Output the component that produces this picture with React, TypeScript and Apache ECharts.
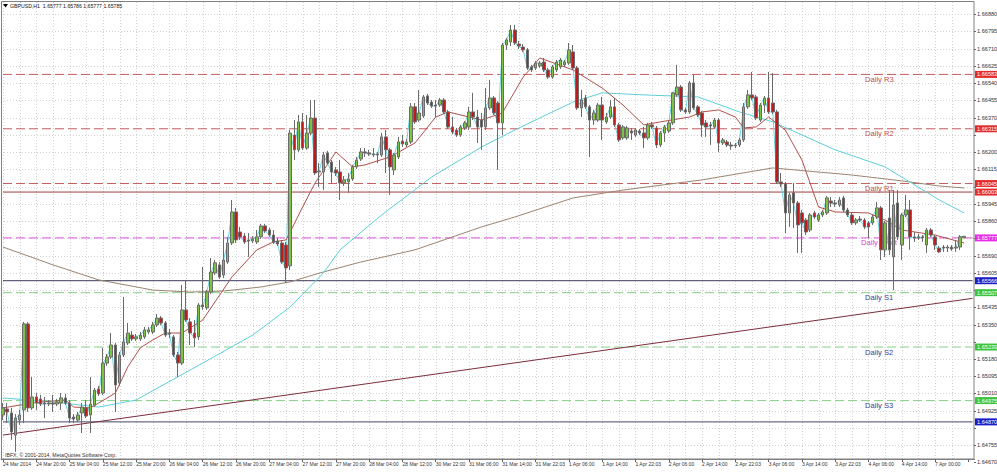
import React, { useEffect, useRef } from "react";
import * as echarts from "echarts";

// [open, close, low, high] — GBPUSD H1, one row per bar from 24 Mar 2014 12:00
const ohlc: number[][] = [
  [1.64904, 1.64939, 1.64879, 1.64963], [1.64934, 1.64919, 1.64864, 1.64963], [1.64914, 1.6482, 1.64781, 1.64939], [1.64805, 1.64889, 1.64722, 1.64909],
  [1.64879, 1.64904, 1.64855, 1.64929], [1.64929, 1.65353, 1.64864, 1.65363], [1.65353, 1.64939, 1.64919, 1.65363], [1.64939, 1.64993, 1.64929, 1.65091],
  [1.64993, 1.64963, 1.64929, 1.65012], [1.64983, 1.64958, 1.64948, 1.65003], [1.64963, 1.64958, 1.64889, 1.64993], [1.64958, 1.64963, 1.64948, 1.64978],
  [1.64963, 1.64958, 1.64919, 1.65003], [1.64958, 1.64968, 1.64948, 1.64983], [1.64963, 1.64988, 1.64929, 1.65012], [1.64988, 1.64963, 1.64953, 1.65008],
  [1.64963, 1.64889, 1.64864, 1.64978], [1.64894, 1.64884, 1.64864, 1.64909], [1.64879, 1.64904, 1.64869, 1.64919], [1.64914, 1.64943, 1.64815, 1.64963],
  [1.64939, 1.64899, 1.64889, 1.64978], [1.64904, 1.64958, 1.64815, 1.65091], [1.64953, 1.65027, 1.64943, 1.65037], [1.65032, 1.65008, 1.64998, 1.65047],
  [1.65012, 1.6516, 1.65003, 1.65234], [1.6516, 1.6519, 1.65146, 1.65205], [1.6519, 1.65249, 1.6518, 1.65308], [1.65249, 1.65052, 1.64919, 1.65259],
  [1.65062, 1.652, 1.65047, 1.65215], [1.652, 1.65264, 1.6519, 1.65486], [1.65259, 1.65308, 1.65249, 1.65358], [1.65298, 1.65279, 1.65269, 1.65318],
  [1.65279, 1.65289, 1.65269, 1.65303], [1.65279, 1.65298, 1.65269, 1.65313], [1.65289, 1.65323, 1.65279, 1.65338], [1.65313, 1.65323, 1.65303, 1.65338],
  [1.65313, 1.65348, 1.65303, 1.65363], [1.65348, 1.65382, 1.65338, 1.65402], [1.65382, 1.65358, 1.65348, 1.65392], [1.65358, 1.65298, 1.65289, 1.65367],
  [1.65308, 1.65303, 1.65284, 1.65328], [1.65289, 1.652, 1.6519, 1.65298], [1.652, 1.6516, 1.65091, 1.65215], [1.6516, 1.65422, 1.6515, 1.65545],
  [1.65422, 1.65372, 1.65363, 1.6557], [1.65363, 1.65308, 1.65249, 1.65382], [1.65308, 1.65284, 1.65239, 1.65372], [1.65289, 1.65446, 1.65274, 1.65456],
  [1.65446, 1.65437, 1.65422, 1.65634], [1.65432, 1.6551, 1.65422, 1.6552], [1.6551, 1.65609, 1.65501, 1.65678], [1.65604, 1.65654, 1.65594, 1.65668],
  [1.65644, 1.65584, 1.65575, 1.65658], [1.65594, 1.65668, 1.65579, 1.65816], [1.65658, 1.65752, 1.65649, 1.65782], [1.65752, 1.65905, 1.65742, 1.65964],
  [1.65905, 1.65767, 1.65752, 1.65925], [1.65806, 1.65782, 1.65767, 1.65831], [1.65786, 1.65757, 1.65747, 1.65801], [1.65767, 1.65762, 1.65683, 1.65801],
  [1.65762, 1.65772, 1.65752, 1.65786], [1.65757, 1.65782, 1.65747, 1.65816], [1.65782, 1.65836, 1.65772, 1.65846], [1.65836, 1.65811, 1.65801, 1.65846],
  [1.65816, 1.65791, 1.65782, 1.65826], [1.65791, 1.65757, 1.65747, 1.65816], [1.65762, 1.65747, 1.65737, 1.65777], [1.65752, 1.65658, 1.65649, 1.65767],
  [1.65742, 1.65629, 1.65555, 1.65757], [1.65639, 1.66294, 1.65619, 1.66309], [1.66284, 1.66211, 1.66161, 1.66358], [1.66211, 1.66349, 1.66201, 1.66383],
  [1.66349, 1.6622, 1.66211, 1.66393], [1.6622, 1.66294, 1.66211, 1.66383], [1.66294, 1.66368, 1.66284, 1.66457], [1.66368, 1.66097, 1.66087, 1.66457],
  [1.66102, 1.66107, 1.66028, 1.66146], [1.66102, 1.66186, 1.66013, 1.66201], [1.66196, 1.66146, 1.66137, 1.66206], [1.66151, 1.66102, 1.66048, 1.66161],
  [1.66112, 1.66097, 1.66082, 1.66127], [1.66102, 1.66048, 1.65964, 1.66161], [1.66048, 1.66063, 1.66033, 1.66082], [1.66053, 1.66068, 1.65999, 1.66097],
  [1.66068, 1.66127, 1.66058, 1.66137], [1.66127, 1.66161, 1.66117, 1.66176], [1.66166, 1.66201, 1.66156, 1.6622], [1.66201, 1.66196, 1.66176, 1.6622],
  [1.66196, 1.66191, 1.66181, 1.66211], [1.66186, 1.66191, 1.66176, 1.6622], [1.66191, 1.66186, 1.66146, 1.66201], [1.66186, 1.66275, 1.66176, 1.66294],
  [1.66275, 1.66211, 1.66097, 1.66309], [1.66211, 1.66127, 1.65989, 1.6622], [1.66112, 1.66186, 1.66087, 1.66196], [1.66176, 1.6625, 1.66166, 1.66275],
  [1.66255, 1.6624, 1.66225, 1.66284], [1.66235, 1.6625, 1.66225, 1.66265], [1.6625, 1.66423, 1.6624, 1.66442], [1.66423, 1.66349, 1.66339, 1.66442],
  [1.66358, 1.66393, 1.66349, 1.66506], [1.66378, 1.66472, 1.66368, 1.66482], [1.66477, 1.66442, 1.66432, 1.66487], [1.66447, 1.66427, 1.66418, 1.66457],
  [1.66432, 1.66427, 1.66373, 1.66457], [1.66432, 1.66457, 1.66423, 1.66467], [1.66457, 1.66398, 1.66388, 1.66467], [1.66398, 1.66324, 1.66314, 1.66408],
  [1.66324, 1.66299, 1.66289, 1.66373], [1.66309, 1.66284, 1.66275, 1.66319], [1.66284, 1.66324, 1.66275, 1.66334], [1.66319, 1.66344, 1.66309, 1.66353],
  [1.66324, 1.66398, 1.66309, 1.66423], [1.66398, 1.66373, 1.66358, 1.66492], [1.66373, 1.66324, 1.66245, 1.66408], [1.66358, 1.66324, 1.66211, 1.66393],
  [1.66324, 1.66418, 1.66309, 1.66516], [1.66418, 1.66467, 1.66408, 1.66556], [1.66467, 1.66393, 1.66383, 1.66477], [1.66442, 1.66344, 1.66112, 1.66452],
  [1.66344, 1.66728, 1.66284, 1.66738], [1.66728, 1.66753, 1.66704, 1.66763], [1.66743, 1.66802, 1.66723, 1.66827], [1.66802, 1.66738, 1.66728, 1.66827],
  [1.66733, 1.66723, 1.66708, 1.66748], [1.66718, 1.66704, 1.66694, 1.66733], [1.66704, 1.66615, 1.66605, 1.66713], [1.6662, 1.66605, 1.66595, 1.6663],
  [1.66615, 1.66639, 1.66605, 1.66649], [1.66625, 1.66639, 1.66615, 1.66649], [1.66644, 1.66605, 1.66595, 1.66664], [1.66605, 1.6657, 1.66561, 1.66615],
  [1.6657, 1.6662, 1.66561, 1.6663], [1.66605, 1.66644, 1.66595, 1.66654], [1.6662, 1.66654, 1.6661, 1.66664], [1.6663, 1.66644, 1.6662, 1.66654],
  [1.66639, 1.66704, 1.6663, 1.66738], [1.66694, 1.66615, 1.66605, 1.66728], [1.66615, 1.66418, 1.66408, 1.66625], [1.66418, 1.66457, 1.66373, 1.66506],
  [1.66467, 1.66423, 1.66413, 1.66482], [1.66423, 1.66358, 1.66176, 1.66432], [1.66358, 1.66393, 1.66334, 1.66408], [1.66358, 1.66432, 1.66349, 1.66442],
  [1.66432, 1.66358, 1.6626, 1.66472], [1.66349, 1.66373, 1.66339, 1.66393], [1.66373, 1.66423, 1.66363, 1.66457], [1.66423, 1.66334, 1.66324, 1.66467],
  [1.66334, 1.6626, 1.6625, 1.66344], [1.6627, 1.66324, 1.6626, 1.66334], [1.6627, 1.66319, 1.6626, 1.66329], [1.66304, 1.66294, 1.6626, 1.66319],
  [1.66284, 1.66309, 1.66275, 1.66319], [1.66304, 1.66294, 1.66284, 1.66314], [1.66294, 1.6627, 1.6622, 1.66324], [1.6627, 1.66334, 1.6626, 1.66344],
  [1.66334, 1.66324, 1.66314, 1.66349], [1.66319, 1.66235, 1.6622, 1.66329], [1.66235, 1.66294, 1.66225, 1.66304], [1.66294, 1.66324, 1.6625, 1.66334],
  [1.66304, 1.66344, 1.66294, 1.66353], [1.66344, 1.66492, 1.66334, 1.66496], [1.66482, 1.66521, 1.66472, 1.6663], [1.66521, 1.66408, 1.66398, 1.66531],
  [1.66408, 1.66398, 1.66388, 1.66418], [1.66398, 1.66541, 1.66388, 1.66551], [1.66541, 1.66418, 1.66408, 1.6658], [1.66423, 1.66383, 1.66373, 1.66432],
  [1.66393, 1.66334, 1.66275, 1.66403], [1.66344, 1.66324, 1.66275, 1.66358], [1.66334, 1.66329, 1.66235, 1.66349], [1.66324, 1.66358, 1.66314, 1.66368],
  [1.66358, 1.66245, 1.66201, 1.66368], [1.66245, 1.6626, 1.66235, 1.6627], [1.6625, 1.66235, 1.66225, 1.6626], [1.66235, 1.6623, 1.66211, 1.6625],
  [1.6623, 1.66235, 1.6622, 1.66245], [1.66235, 1.6626, 1.66225, 1.6627], [1.6626, 1.66423, 1.6625, 1.66442], [1.66423, 1.66482, 1.66413, 1.66506],
  [1.66482, 1.66467, 1.66457, 1.66595], [1.66472, 1.66368, 1.66358, 1.66482], [1.66358, 1.66432, 1.66349, 1.66442], [1.66432, 1.66467, 1.66393, 1.66477],
  [1.66467, 1.66398, 1.66388, 1.66595], [1.66442, 1.66398, 1.66388, 1.6659], [1.66398, 1.66053, 1.66043, 1.66408], [1.66053, 1.66043, 1.66028, 1.66097],
  [1.66043, 1.659, 1.65801, 1.66053], [1.659, 1.65989, 1.65831, 1.65999], [1.65999, 1.65949, 1.65826, 1.66048], [1.65949, 1.65841, 1.65703, 1.65959],
  [1.659, 1.65851, 1.65703, 1.65915], [1.65865, 1.65806, 1.65791, 1.65875], [1.65816, 1.6589, 1.65806, 1.659], [1.659, 1.6588, 1.6587, 1.6591],
  [1.65865, 1.6589, 1.65856, 1.659], [1.6589, 1.65905, 1.6588, 1.65915], [1.659, 1.65974, 1.6589, 1.65984], [1.65959, 1.65949, 1.65929, 1.65979],
  [1.65949, 1.65944, 1.65929, 1.65964], [1.65939, 1.65964, 1.65929, 1.65979], [1.65974, 1.65915, 1.65905, 1.65984], [1.65915, 1.6589, 1.6588, 1.65925],
  [1.6589, 1.65851, 1.65841, 1.659], [1.65851, 1.65865, 1.65841, 1.65875], [1.6587, 1.65865, 1.65856, 1.65885], [1.65865, 1.65831, 1.65821, 1.65875],
  [1.65851, 1.65831, 1.65777, 1.6586], [1.65851, 1.6588, 1.65841, 1.6589], [1.6588, 1.65925, 1.6587, 1.65954], [1.65925, 1.65718, 1.65668, 1.65934],
  [1.65718, 1.65851, 1.65683, 1.6586], [1.65875, 1.65718, 1.65693, 1.66013], [1.65683, 1.65939, 1.6552, 1.66013], [1.65949, 1.65782, 1.65767, 1.66013],
  [1.65742, 1.6589, 1.65668, 1.659], [1.6589, 1.65915, 1.6588, 1.65989], [1.65915, 1.65782, 1.65718, 1.65964], [1.65782, 1.65777, 1.65757, 1.65806],
  [1.65777, 1.65782, 1.65767, 1.65796], [1.65782, 1.65777, 1.65757, 1.65791], [1.65742, 1.65816, 1.65703, 1.65826], [1.65816, 1.65791, 1.65782, 1.65826],
  [1.65782, 1.65742, 1.65718, 1.65791], [1.65727, 1.65708, 1.65703, 1.65737], [1.65732, 1.65727, 1.65708, 1.65742], [1.65727, 1.65732, 1.65708, 1.65742],
  [1.65732, 1.65722, 1.65713, 1.65742], [1.65727, 1.65732, 1.65708, 1.65767], [1.65732, 1.65782, 1.65718, 1.65791], [1.65777, 1.65785, 1.65777, 1.65786],
];

const slotCount = 234; // bar slots across the plot (last slots empty: chart shift)

const xTickLabels = [
  "24 Mar 2014", "24 Mar 20:00", "25 Mar 04:00", "25 Mar 12:00", "25 Mar 20:00", "26 Mar 04:00", "26 Mar 12:00", "26 Mar 20:00",
  "27 Mar 04:00", "27 Mar 12:00", "27 Mar 20:00", "28 Mar 04:00", "28 Mar 12:00", "30 Mar 22:00", "31 Mar 06:00", "31 Mar 14:00",
  "31 Mar 22:03", "1 Apr 06:00", "1 Apr 14:00", "1 Apr 22:03", "2 Apr 06:00", "2 Apr 14:00", "2 Apr 22:03", "3 Apr 06:00",
  "3 Apr 14:00", "3 Apr 22:03", "4 Apr 06:00", "4 Apr 14:00", "7 Apr 00:00",
];

const yTickValues = [
  1.6688, 1.66795, 1.6671, 1.66625, 1.6654, 1.66455, 1.6637, 1.66285, 1.662, 1.66115, 1.6603, 1.65945, 1.6586, 1.65775,
  1.6569, 1.65605, 1.6552, 1.65435, 1.6535, 1.65265, 1.6518, 1.65095, 1.6501, 1.64925, 1.6484, 1.64755, 1.6467,
];

// moving averages sampled as [bar index, price]
const maFast = [
  [0, 1.64939], [7, 1.64963], [12, 1.64973], [15, 1.64978], [17, 1.64943], [21, 1.64939], [23, 1.64963], [27, 1.65012],
  [30, 1.65141], [33, 1.65235], [36, 1.65274], [39, 1.65308], [43, 1.65308], [48, 1.65372], [55, 1.65584], [61, 1.65718],
  [65, 1.65757], [68, 1.65767], [69, 1.65806], [72, 1.65929], [75, 1.66048], [80, 1.66201], [84, 1.66127], [87, 1.66137],
  [93, 1.66176], [99, 1.66245], [104, 1.66373], [107, 1.66398], [112, 1.66373], [115, 1.66358], [120, 1.66393], [125, 1.6657],
  [129, 1.66664], [137, 1.66605], [144, 1.66516], [149, 1.66432], [154, 1.66334], [158, 1.66349], [165, 1.66373], [168, 1.66398],
  [172, 1.66408], [176, 1.66373], [178, 1.66319], [181, 1.66324], [184, 1.66373], [188, 1.66309], [192, 1.66161], [196, 1.65929],
  [200, 1.65905], [208, 1.659], [212, 1.65865], [216, 1.65816], [224, 1.65791], [231, 1.65752],
];
const maMid = [
  [0, 1.64988], [12, 1.64968], [23, 1.64943], [32, 1.64978], [48, 1.6516], [60, 1.65298], [69, 1.65436], [77, 1.65604],
  [81, 1.65718], [91, 1.6589], [103, 1.66077], [115, 1.66225], [123, 1.66309], [137, 1.66447], [144, 1.66492], [154, 1.66482],
  [167, 1.66472], [177, 1.66398], [185, 1.66349], [200, 1.66211], [212, 1.66127], [225, 1.65964], [231, 1.659],
];
const maSlow = [
  [0, 1.65732], [12, 1.65644], [23, 1.6557], [36, 1.6552], [45, 1.6551], [53, 1.65515], [62, 1.65535], [69, 1.6556],
  [77, 1.65609], [86, 1.65658], [99, 1.65718], [115, 1.65831], [123, 1.6588], [137, 1.65974], [149, 1.66013], [168, 1.66063],
  [185, 1.66122], [204, 1.66087], [216, 1.66058], [225, 1.66033], [231, 1.66023],
];
const trendLine = [[0, 1.64805], [233, 1.65479]];

const pivotNames = ["Daily R3", "Daily R2", "Daily R1", "Daily Pivot", "Daily S1", "Daily S2", "Daily S3"];
const pivotValues = [1.66583, 1.66315, 1.66045, 1.65777, 1.65507, 1.65239, 1.64975];
const solidLevels = [1.66003, 1.65566, 1.6487];

const tagValues = [1.66583, 1.66315, 1.66045, 1.66003, 1.65777, 1.65566, 1.65507, 1.65239, 1.64975, 1.6487];
const tagKinds = ["R", "R", "R", "R", "P", "B", "S", "S", "S", "B"];

const titleText = "GBPUSD,H1  1.65777 1.65786 1.65777 1.65785";
const copyrightText = "IBFX, \u00A9 2001-2014, MetaQuotes Software Corp.";

const FONT = "Liberation Sans, Arial, sans-serif";
const kindColor: Record<string, string> = { R: "#e52b2b", P: "#e62ee6", B: "#1c1cc8", S: "#3cc43c" };

export default function App() {
  const ref = useRef<HTMLDivElement>(null);

  useEffect(() => {
    if (!ref.current) return;
    const chart = echarts.init(ref.current, undefined, { renderer: "svg" });
    const categories = Array.from({ length: slotCount }, (_, i) => String(i));
    const lastCat = slotCount - 1;

    const levelSeries: any[] = [];
    pivotValues.forEach((v, k) => {
      const col = k < 3 ? "#c45c5c" : k === 3 ? "#e050e0" : "#86d086";
      levelSeries.push({
        type: "line", data: [[0, v], [lastCat, v]], showSymbol: false, silent: true, z: 2,
        lineStyle: { color: col, width: 1, type: [9, 4] },
      });
    });
    const solidCols = ["#a23c3c", "#3a3a5c", "#45456a"];
    solidLevels.forEach((v, k) => {
      levelSeries.push({
        type: "line", data: [[0, v], [lastCat, v]], showSymbol: false, silent: true, z: 2,
        lineStyle: { color: solidCols[k], width: 1 },
      });
    });

    chart.setOption({
      animation: false,
      backgroundColor: "#ffffff",
      grid: { left: -1.6, top: 2, width: 976.2, height: 457, containLabel: false },
      xAxis: {
        type: "category",
        data: categories,
        boundaryGap: true,
        axisLine: { show: true, lineStyle: { color: "#808080", width: 1 } },
        axisTick: { show: true, alignWithLabel: true, length: 3, interval: (i: number) => i % 8 === 0, lineStyle: { color: "#606060" } },
        axisLabel: {
          show: true, interval: (i: number) => i % 8 === 0, align: "left", margin: 2,
          fontSize: 5, color: "#333", fontFamily: FONT,
          formatter: (v: string) => xTickLabels[Number(v) / 8] ?? "",
        },
        splitLine: { show: false },
      },
      yAxis: {
        type: "value", position: "right", min: 1.64687, max: 1.6694, scale: true,
        axisLine: { show: false }, axisTick: { show: false }, axisLabel: { show: false }, splitLine: { show: false },
      },
      series: [
        ...levelSeries,
        { type: "line", data: trendLine, showSymbol: false, silent: true, z: 2, lineStyle: { color: "#7b2d3c", width: 1 } },
        { type: "line", data: maSlow, showSymbol: false, silent: true, z: 2, lineStyle: { color: "#9c8470", width: 1 } },
        { type: "line", data: maMid, showSymbol: false, silent: true, z: 2, lineStyle: { color: "#5ccfdc", width: 1 } },
        { type: "line", data: ohlc.map((r) => r[1]), showSymbol: false, silent: true, z: 2, lineStyle: { color: "#6fd3e2", width: 1 } },
        { type: "line", data: maFast, showSymbol: false, silent: true, z: 2, lineStyle: { color: "#b0504a", width: 1 } },
        {
          type: "candlestick", data: ohlc, barWidth: 3, z: 3, silent: true,
          itemStyle: { color: "#7dc242", color0: "#c21a1a", borderColor: "#6b6b6b", borderColor0: "#6b6b6b", borderWidth: 1 },
        },
      ],
    });

    const X = (i: number) => chart.convertToPixel({ xAxisIndex: 0 }, i) as number;
    const Y = (v: number) => chart.convertToPixel({ yAxisIndex: 0 }, v) as number;
    const gTop = Y(1.6694), gBot = Y(1.64687);
    const right = 974;
    const els: any[] = [];
    const tagYs = tagValues.map((v) => Y(v));

    // grid
    for (let i = 0; i < ohlc.length; i += 4) {
      const x = Math.round(X(i)) + 0.5;
      els.push({ type: "line", z: 0, silent: true, shape: { x1: x, y1: gTop, x2: x, y2: gBot }, style: { stroke: "#d2d2d2", lineWidth: 1, lineDash: [1, 2] } });
    }
    yTickValues.forEach((v) => {
      const yv = Y(v);
      const y = Math.round(yv) + 0.5;
      if (y < gBot - 1) {
        els.push({ type: "line", z: 0, silent: true, shape: { x1: 1, y1: y, x2: right, y2: y }, style: { stroke: "#d2d2d2", lineWidth: 1, lineDash: [1, 2] } });
      }
      els.push({ type: "line", z: 5, silent: true, shape: { x1: right, y1: y, x2: right + 2, y2: y }, style: { stroke: "#606060", lineWidth: 1 } });
      const hidden = tagYs.some((ty) => Math.abs(ty - yv) < 6.5);
      if (!hidden) {
        els.push({ type: "text", z: 5, silent: true, x: 977, y: yv, style: { text: v.toFixed(5), fontSize: 5.6, fontFamily: FONT, fill: "#333", verticalAlign: "middle", align: "left" } });
      }
    });

    // pivot labels (behind candles)
    pivotNames.forEach((name, k) => {
      const col = k < 3 ? "#c24e4e" : k === 3 ? "#e040e0" : "#3b3b8e";
      els.push({ type: "text", z: 1, silent: true, x: k === 3 ? 861 : 865, y: Y(pivotValues[k]) + 5, style: { text: name, fontSize: 7.6, fontFamily: FONT, fill: col, verticalAlign: "middle", align: "left" } });
    });

    // right price tags
    tagValues.forEach((v, k) => {
      const y = tagYs[k];
      els.push({ type: "rect", z: 6, silent: true, shape: { x: 975, y: y - 3.5, width: 22, height: 7 }, style: { fill: kindColor[tagKinds[k]] } });
      els.push({ type: "text", z: 7, silent: true, x: 977, y, style: { text: v.toFixed(5), fontSize: 5.6, fontFamily: FONT, fill: "#ffffff", verticalAlign: "middle", align: "left" } });
    });

    // frame
    els.push({ type: "rect", z: 5, silent: true, shape: { x: 1.5, y: 1.5, width: right - 1.5, height: gBot - 1.5 }, style: { fill: "transparent", stroke: "#808080", lineWidth: 1 } });

    // title & copyright
    els.push({ type: "polygon", z: 5, silent: true, shape: { points: [[3, 4], [8, 4], [5.5, 7.5]] }, style: { fill: "#000" } });
    els.push({ type: "text", z: 5, silent: true, x: 10, y: 6, style: { text: titleText, fontSize: 5.2, fontFamily: FONT, fill: "#111", verticalAlign: "middle", align: "left" } });
    els.push({ type: "text", z: 5, silent: true, x: 5, y: gBot - 4, style: { text: copyrightText, fontSize: 5.2, fontFamily: FONT, fill: "#333", verticalAlign: "middle", align: "left" } });

    chart.setOption({ graphic: els });

    return () => chart.dispose();
  }, []);

  return <div ref={ref} style={{ position: "fixed", left: 0, top: 0, width: 997, height: 473 }} />;
}
